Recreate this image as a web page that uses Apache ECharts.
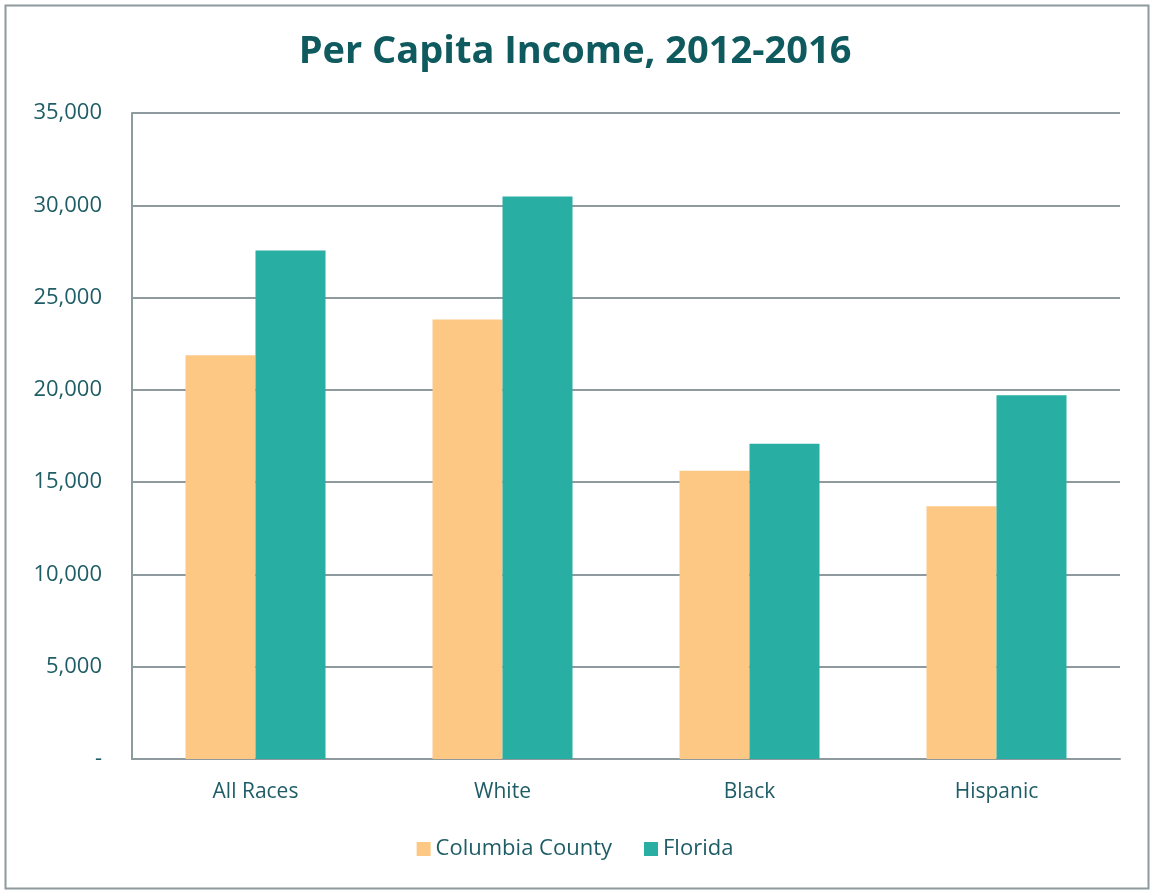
<!DOCTYPE html>
<html>
<head>
<meta charset="utf-8">
<script src="https://cdn.jsdelivr.net/npm/echarts@6/dist/echarts.min.js"></script>
<style>
html,body{margin:0;padding:0;background:#fff;}
#c{width:1150px;height:890px;}
</style>
</head>
<body>
<div id="c"></div>
<script>
const categories = ["All Races", "White", "Black", "Hispanic"];
const columbiaCounty = [21880, 23810, 15620, 13690];
const florida = [27550, 30470, 17080, 19710];
const seriesNames = ["Columbia County", "Florida"];

const chart = echarts.init(document.getElementById('c'));
const textColor = '#1F5D66';
const font = '"Open Sans", "Noto Sans", sans-serif';
chart.setOption({
  animation: false,
  backgroundColor: '#fff',
  title: {
    text: 'Per Capita Income, 2012-2016',
    left: 'center',
    top: 28,
    textStyle: { fontFamily: font, fontSize: 38, fontWeight: 'bold', color: '#0E5A5E' }
  },
  graphic: [{
    type: 'rect', left: 3, top: 3, silent: true,
    shape: { width: 1143, height: 883 },
    style: { fill: 'none', stroke: '#8E9A9E', lineWidth: 2 }
  }],
  grid: { left: 132, right: 30, top: 113, bottom: 131, containLabel: false },
  legend: {
    bottom: 25,
    left: 'center',
    itemWidth: 14, itemHeight: 14, itemGap: 32,
    icon: 'rect',
    textStyle: { fontFamily: font, fontSize: 22, color: textColor }
  },
  xAxis: {
    type: 'category',
    data: categories,
    axisLine: { show: true, lineStyle: { color: '#8E9A9E', width: 2 } },
    axisTick: { show: false },
    axisLabel: { fontFamily: font, fontSize: 21, color: textColor, margin: 23 }
  },
  yAxis: {
    type: 'value',
    min: 0, max: 35000, interval: 5000,
    axisLine: { show: true, lineStyle: { color: '#8E9A9E', width: 2 } },
    axisTick: { show: false },
    splitLine: { lineStyle: { color: '#8E9A9E', width: 2 } },
    axisLabel: {
      fontFamily: font, fontSize: 22, color: textColor, margin: 30,
      formatter: v => v === 0 ? '-' : v.toLocaleString('en-US')
    }
  },
  series: [
    { name: seriesNames[0], type: 'bar', data: columbiaCounty, barWidth: 70, barGap: '0%',
      itemStyle: { color: '#FCC884' } },
    { name: seriesNames[1], type: 'bar', data: florida, barWidth: 70, barGap: '0%',
      itemStyle: { color: '#29AEA4' } }
  ]
});
</script>
</body>
</html>
